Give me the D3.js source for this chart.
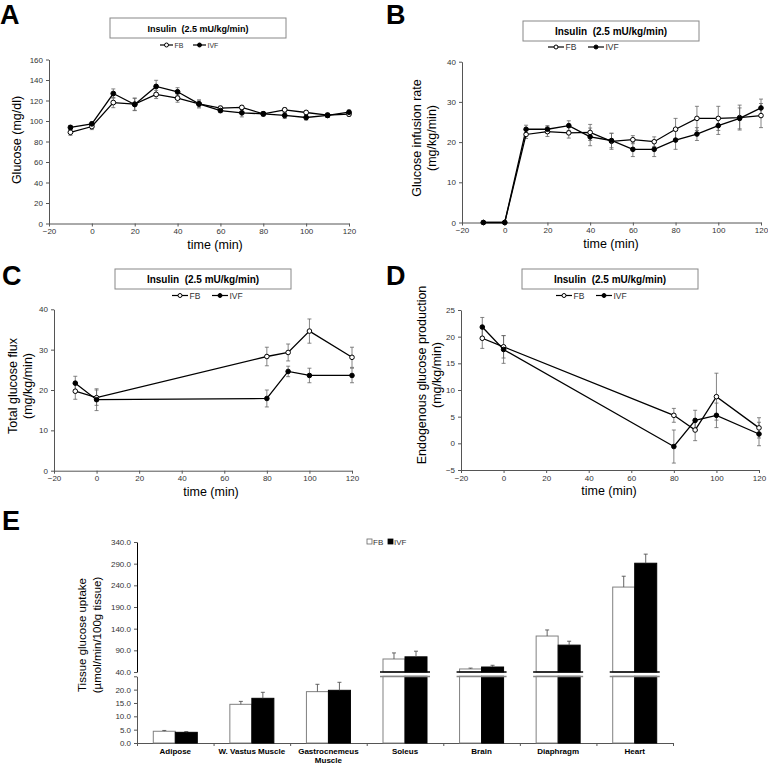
<!DOCTYPE html>
<html><head><meta charset="utf-8">
<script src="https://cdn.jsdelivr.net/npm/d3@7"></script>
<style>body{margin:0;background:#fff} svg{display:block} text{font-family:"Liberation Sans",Arial,sans-serif}</style>
</head><body><svg id="c" width="768" height="764"></svg>
<script>
const timeAB = [-10,0,10,20,30,40,50,60,70,80,90,100,110,120];
const glucoseFB = [89,94.6,118,116.4,125.9,122.3,116.7,112.5,113.2,107,110.9,108.3,105.7,106.7];
const glucoseFBErr = [3,3,5,6,4,4,3,2,2,2,2,2,2,2];
const glucoseIVF = [93.7,97.2,126.8,116.1,133.7,128.5,116.7,110.2,108,107,105.4,103.4,105.4,108.6];
const glucoseIVFErr = [2,2,4.5,6,6,4,4,2,4,2,3,2.5,2,2];
const girFB = [0,0,21.9,22.6,22.3,22.4,20.2,20.6,20.1,23.2,25.9,25.9,26.1,26.6];
const girFBErr = [0,0,1,1.2,1.3,2,2,1,1.2,2.7,3,3,3.1,3];
const girIVF = [0,0,23.2,23.2,24.1,21.3,20.4,18.2,18.2,20.5,22.0,24.1,25.9,28.5];
const girIVFErr = [0,0,1,0.9,1.2,2.2,1.8,1.8,1.8,2.3,1.6,2.2,2.6,2.2];
const timeCD = [-10,0,80,90,100,120];
const fluxFB = [19.7,18.1,28.3,29.3,34.6,28.1];
const fluxFBErr = [2,1.9,2.3,2.1,3,2.5];
const fluxIVF = [21.7,17.6,17.9,24.6,23.6,23.6];
const fluxIVFErr = [1.7,2.7,2.1,1.3,1.8,1.8];
const egpFB = [19.7,18.1,5.25,2.5,8.75,2.9];
const egpFBErr = [1.9,2.1,1.3,2,4.4,1.9];
const egpIVF = [21.8,17.6,-0.6,4.3,5.25,1.75];
const egpIVFErr = [1.8,2.6,3.1,1.9,2.3,2.2];
const xTicks = [-20,0,20,40,60,80,100,120];
const yTicksA = [0,20,40,60,80,100,120,140,160];
const yTicksBC = [0,10,20,30,40];
const yTicksD = [-5,0,5,10,15,20,25];
const tissues = ["Adipose","W. Vastus Muscle","Gastrocnemeus\nMuscle","Soleus","Brain","Diaphragm","Heart"];
const uptakeFB = [4.4,14.5,19.25,70,47,123,236];
const uptakeFBErr = [0.3,1.1,2.75,14,2,14,25];
const uptakeIVF = [4.0,16.75,19.75,75,51.5,102,291];
const uptakeIVFErr = [0.3,2.25,3,13,4,9,21];
const lowTicks = [0,5,10,15,20,25];
const upTicks = [40,90,140,190,240,290,340];
const seriesNames = ["FB","IVF"];
const panelTitle = "Insulin  (2.5 mU/kg/min)";

const FONT = '"Liberation Sans", Arial, sans-serif';
const svg = d3.select("#c");

function styleAxis(a, fs){
  a.attr("font-family", FONT).attr("font-size", fs);
  a.selectAll("path,line").attr("stroke","#555").attr("stroke-width",1);
  a.selectAll("text").attr("fill","#333");
}

function linePanel(o){
  const x = d3.scaleLinear([-20,120],[o.x0,o.x1]);
  const y = d3.scaleLinear(o.yDomain,[o.yBot,o.yTop]);
  const g = svg.append("g");
  g.append("text").attr("x",o.lx).attr("y",o.ly).attr("font-size",27).attr("font-weight","bold").text(o.letter);
  g.append("rect").attr("x",o.bx).attr("y",o.by).attr("width",176).attr("height",20)
    .attr("fill","#fff").attr("stroke","#888").attr("stroke-width",1);
  g.append("text").attr("x",o.bx+88).attr("y",o.by+14).attr("text-anchor","middle")
    .attr("font-size",o.tfs).attr("font-weight","bold").style("white-space","pre").text(panelTitle);
  const lg = g.append("g").attr("transform",`translate(${o.legX},${o.legY})`).attr("font-size",o.lfs);
  seriesNames.forEach((nm,i)=>{
    const ox = i*o.legStep;
    lg.append("line").attr("x1",ox).attr("x2",ox+o.legLen).attr("y1",0).attr("y2",0).attr("stroke","#000").attr("stroke-width",1.2);
    lg.append("circle").attr("cx",ox+o.legLen/2).attr("cy",0).attr("r",2).attr("fill",i?"#000":"#fff").attr("stroke","#000");
    lg.append("text").attr("x",ox+o.legLen+1.5).attr("y",o.lfs*0.36).attr("fill","#333").text(nm);
  });
  const ax = g.append("g").attr("transform",`translate(0,${o.yBot})`)
    .call(d3.axisBottom(x).tickValues(xTicks).tickSize(3).tickSizeOuter(0).tickPadding(2));
  const ay = g.append("g").attr("transform",`translate(${o.x0},0)`)
    .call(d3.axisLeft(y).tickValues(o.yTicks).tickSize(3).tickSizeOuter(0).tickPadding(3));
  styleAxis(ax,8); styleAxis(ay,8);
  g.append("text").attr("x",o.xtX).attr("y",o.yBot+25).attr("text-anchor","middle").attr("font-size",12.5).text("time (min)");
  o.yTitle.forEach((t,i)=>{
    g.append("text").attr("transform",`translate(${o.ytX[i]},${o.ytY}) rotate(-90)`)
      .attr("text-anchor","middle").attr("font-size",12.5).text(t);
  });
  const series=[{v:o.fb,e:o.fbErr,fill:"#fff"},{v:o.ivf,e:o.ivfErr,fill:"#000"}];
  series.forEach(s=>{
    o.times.forEach((t,i)=>{
      if(!s.e[i]) return;
      const cx=x(t), y1=y(s.v[i]-s.e[i]), y2=y(s.v[i]+s.e[i]);
      g.append("line").attr("x1",cx).attr("x2",cx).attr("y1",y1).attr("y2",y2).attr("stroke","#666").attr("stroke-width",0.8);
      [y1,y2].forEach(yy=>g.append("line").attr("x1",cx-2).attr("x2",cx+2).attr("y1",yy).attr("y2",yy).attr("stroke","#666").attr("stroke-width",0.8));
    });
  });
  const line = d3.line().x(d=>x(d[0])).y(d=>y(d[1]));
  series.forEach(s=>{
    g.append("path").datum(o.times.map((t,i)=>[t,s.v[i]])).attr("d",line)
      .attr("fill","none").attr("stroke","#000").attr("stroke-width",1.3);
  });
  series.forEach(s=>{
    g.selectAll(null).data(o.times.map((t,i)=>[t,s.v[i]])).join("circle")
      .attr("cx",d=>x(d[0])).attr("cy",d=>y(d[1])).attr("r",o.r)
      .attr("fill",s.fill).attr("stroke","#000").attr("stroke-width",1);
  });
}

linePanel({letter:"A",lx:0,ly:24,x0:49,x1:349,yTop:59.5,yBot:223.5,yDomain:[0,160],yTicks:yTicksA,
  bx:110,by:18,tfs:9,legX:160,legY:45,lfs:7,legLen:13,legStep:33,
  xtX:215,yTitle:["Glucose (mg/dl)"],ytX:[21],ytY:140,
  times:timeAB,fb:glucoseFB,fbErr:glucoseFBErr,ivf:glucoseIVF,ivfErr:glucoseIVFErr,r:2.4});
linePanel({letter:"B",lx:386,ly:24,x0:462,x1:761,yTop:61.7,yBot:222.5,yDomain:[0,40],yTicks:yTicksBC,
  bx:523,by:21,tfs:10,legX:548,legY:47,lfs:8.5,legLen:16,legStep:40,
  xtX:611,yTitle:["Glucose infusion rate","(mg/kg/min)"],ytX:[421,436],ytY:138,
  times:timeAB,fb:girFB,fbErr:girFBErr,ivf:girIVF,ivfErr:girIVFErr,r:2.3});
linePanel({letter:"C",lx:2,ly:285,x0:54,x1:352,yTop:309.3,yBot:470.7,yDomain:[0,40],yTicks:yTicksBC,
  bx:115,by:269,tfs:10,legX:172,legY:295.5,lfs:8.5,legLen:16,legStep:40,
  xtX:211,yTitle:["Total glucose flux","(mg/kg/min)"],ytX:[17,32],ytY:386,
  times:timeCD,fb:fluxFB,fbErr:fluxFBErr,ivf:fluxIVF,ivfErr:fluxIVFErr,r:2.3});
linePanel({letter:"D",lx:386,ly:285,x0:461,x1:759,yTop:310,yBot:470,yDomain:[-5,25],yTicks:yTicksD,
  bx:522,by:269,tfs:10,legX:556,legY:295.5,lfs:8.5,legLen:16,legStep:40,
  xtX:609,yTitle:["Endogenous glucose production","(mg/kg/min)"],ytX:[426,441],ytY:375,
  times:timeCD,fb:egpFB,fbErr:egpFBErr,ivf:egpIVF,ivfErr:egpIVFErr,r:2.3});

(function(){
  const g = svg.append("g");
  g.append("text").attr("x",2).attr("y",530).attr("font-size",27).attr("font-weight","bold").text("E");
  const xE = d3.scaleBand(tissues,[137,673]);
  const xG = d3.scaleBand(seriesNames,[0,xE.bandwidth()]).paddingOuter(0.74);
  const yLow = d3.scaleLinear([0,25],[743,676.3]);
  const yUp = d3.scaleLinear([40,340],[672,542]);
  const bw = xG.bandwidth();
  const fmt = d3.format(".1f");
  const aLow = g.append("g").attr("transform","translate(137,0)")
    .call(d3.axisLeft(yLow).tickValues(lowTicks).tickSize(3).tickSizeOuter(0).tickPadding(3).tickFormat(d=>d===25?"":fmt(d)));
  const aUp = g.append("g").attr("transform","translate(137,0)")
    .call(d3.axisLeft(yUp).tickValues(upTicks).tickSize(3).tickSizeOuter(0).tickPadding(3).tickFormat(fmt));
  styleAxis(aLow,8); styleAxis(aUp,8);
  aUp.select("path").attr("stroke","#000");
  const xi = d3.scaleLinear([0,tissues.length],[137,673]);
  const aX = g.append("g").attr("transform","translate(0,743)")
    .call(d3.axisBottom(xi).tickValues(d3.range(tissues.length+1)).tickSize(3).tickSizeOuter(0).tickFormat(""));
  styleAxis(aX,8);
  tissues.forEach((t,ti)=>{
    const lines = t.split("\n");
    lines.forEach((ln,li)=>g.append("text").attr("x",xE(t)+xE.bandwidth()/2).attr("y",754+li*8.5)
      .attr("text-anchor","middle").attr("font-size",8).attr("font-weight","bold").text(ln));
    const vals=[[uptakeFB[ti],uptakeFBErr[ti]],[uptakeIVF[ti],uptakeIVFErr[ti]]];
    let split=false;
    vals.forEach(([v,e],si)=>{
      const bx = xE(t)+xG(seriesNames[si]);
      const fill = si?"#000":"#fff", stroke = si?"#000":"#808080";
      let topY, errY;
      if(v<=25){
        topY=yLow(v); errY=yLow(v+e);
        g.append("rect").attr("x",bx).attr("y",topY).attr("width",bw).attr("height",yLow(0)-topY)
          .attr("fill",fill).attr("stroke",stroke).attr("stroke-width",1);
      } else {
        split=true;
        g.append("rect").attr("x",bx).attr("y",yLow(25)).attr("width",bw).attr("height",yLow(0)-yLow(25))
          .attr("fill",fill).attr("stroke",stroke).attr("stroke-width",1);
        topY=yUp(v); errY=yUp(v+e);
        g.append("rect").attr("x",bx).attr("y",topY).attr("width",bw).attr("height",yUp(40)-topY)
          .attr("fill",fill).attr("stroke",stroke).attr("stroke-width",1);
      }
      const cx = bx+bw/2;
      g.append("line").attr("x1",cx).attr("x2",cx).attr("y1",topY).attr("y2",errY).attr("stroke","#555").attr("stroke-width",0.9);
      g.append("line").attr("x1",cx-2).attr("x2",cx+2).attr("y1",errY).attr("y2",errY).attr("stroke","#555").attr("stroke-width",0.9);
    });
    if(split){
      const x1 = xE(t)+xG("FB")-3, x2 = xE(t)+xG("IVF")+bw+3;
      g.append("line").attr("x1",x1).attr("x2",x2).attr("y1",672).attr("y2",672).attr("stroke","#000").attr("stroke-width",1.3);
      g.append("line").attr("x1",x1).attr("x2",x2).attr("y1",676.5).attr("y2",676.5).attr("stroke","#888").attr("stroke-width",1.6);
    }
  });
  const lg = g.append("g").attr("transform","translate(367,542)").attr("font-size",8);
  seriesNames.forEach((nm,i)=>{
    const ox=i*21;
    lg.append("rect").attr("x",ox).attr("y",-3).attr("width",5).attr("height",5).attr("fill",i?"#000":"#fff").attr("stroke",i?"#000":"#666").attr("stroke-width",0.8);
    lg.append("text").attr("x",ox+6).attr("y",2.8).attr("fill","#333").text(nm);
  });
  ["Tissue glucose uptake","(µmol/min/100g tissue)"].forEach((t,i)=>{
    g.append("text").attr("transform",`translate(${86+i*15},635) rotate(-90)`)
      .attr("text-anchor","middle").attr("font-size",11.5).text(t);
  });
})();
</script></body></html>
